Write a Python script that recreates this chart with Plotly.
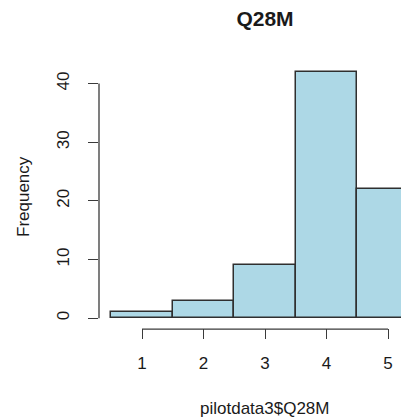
import plotly.graph_objects as go

categories = [1, 2, 3, 4, 5]
counts = [1, 3, 9, 42, 22]
y_ticks = [0, 10, 20, 30, 40]
x_ticks = [1, 2, 3, 4, 5]
title_text = "Q28M"
x_label = "pilotdata3$Q28M"
y_label = "Frequency"

OFF = 8  # default page body margin
W, H = 409 - OFF, 419 - OFF
ml, mr = 99 - OFF, 0
mt = 62 - OFF
plot_bottom = 328 - OFF
mb = H - plot_bottom
plot_w = W - ml - mr
plot_h = H - mt - mb

FONT = "Liberation Sans, Arial, sans-serif"
AX = "#3a3a3a"

fig = go.Figure()
fig.add_trace(go.Bar(
    x=categories, y=counts, width=1,
    marker=dict(color="#ADD8E6", line=dict(color="#2f2f2f", width=1.5)),
    hoverinfo="x+y",
))

# R-style axis lines spanning only the tick range
fig.add_shape(type="line", xref="paper", yref="y", x0=0, x1=0,
              y0=min(y_ticks), y1=max(y_ticks), line=dict(color=AX, width=1.3))
fig.add_shape(type="line", xref="x", yref="paper", x0=min(x_ticks), x1=max(x_ticks),
              y0=-0.004, y1=-0.004, line=dict(color=AX, width=1.3))

fig.update_layout(
    width=W, height=H,
    margin=dict(l=ml, r=mr, t=mt, b=mb),
    paper_bgcolor="white", plot_bgcolor="white",
    showlegend=False,
    bargap=0,
    font=dict(family=FONT, size=17, color="#1a1a1a"),
    title=dict(text="<b>" + title_text + "</b>", x=(265 - OFF - ml) / plot_w, xref="paper",
               xanchor="center", y=1 - (19 - OFF) / H, yanchor="middle",
               font=dict(size=21, family=FONT, color="#1a1a1a")),
    xaxis=dict(range=[0.3, 0.3 + (409 - 99) / 61.5], tickvals=x_ticks,
               ticktext=[str(v) for v in x_ticks],
               showgrid=False, zeroline=False, showline=False,
               ticks="outside", ticklen=10, tickwidth=1.3, tickcolor=AX,
               ticklabelstandoff=10, tickfont=dict(size=17)),
    yaxis=dict(range=[-1.68, 43.68], tickvals=y_ticks,
               ticktext=[str(v) for v in y_ticks],
               showgrid=False, zeroline=False, showline=False,
               ticks="outside", ticklen=10, tickwidth=1.3, tickcolor=AX,
               tickangle=-90, ticklabelstandoff=12, tickfont=dict(size=17)),
    annotations=[
        dict(text=x_label, xref="paper", yref="paper",
             x=(264 - 99) / plot_w, y=-(408 - 328) / plot_h,
             xanchor="center", yanchor="middle", showarrow=False,
             font=dict(size=17)),
        dict(text=y_label, xref="paper", yref="paper",
             x=(23 - 99) / plot_w, y=1 - (197 - 62) / plot_h,
             xanchor="center", yanchor="middle", showarrow=False,
             textangle=-90, font=dict(size=17)),
    ],
)

fig.write_html("out.html")
